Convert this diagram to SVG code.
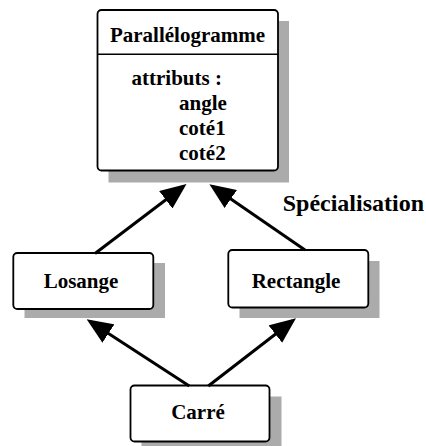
<svg xmlns="http://www.w3.org/2000/svg" width="426" height="446" viewBox="0 0 426 446">
  <style>
    .shadow { fill: #ababab; }
    .box { fill: #ffffff; stroke: #000000; stroke-width: 1.8; }
    .sep { stroke: #000000; stroke-width: 1.5; }
    text { font-family: "Liberation Serif", "Times New Roman", serif; font-weight: bold; font-size: 21px; fill: #000000; }
    .mid { text-anchor: middle; }
    .big { font-size: 24px; }
    .link { stroke: #000000; stroke-width: 3; fill: none; marker-end: url(#head); }
  </style>
  <defs>
    <marker id="head" markerUnits="userSpaceOnUse" markerWidth="26" markerHeight="22" refX="22" refY="11" orient="auto">
      <path d="M0,0 L26,11 L0,22 Z" fill="#000000"/>
    </marker>
  </defs>

  <rect width="426" height="446" fill="#ffffff"/>

  <!-- class boxes -->
  <g id="parallelogramme">
    <rect class="shadow" x="108.5" y="21" width="180.5" height="161.5"/>
    <rect class="box" x="97.5" y="10" width="180.5" height="160.5" rx="4"/>
    <line class="sep" x1="97.5" y1="54.3" x2="278" y2="54.3"/>
    <text class="mid" x="187.5" y="42.3">Parallélogramme</text>
    <text x="131.5" y="84.5">attributs :</text>
    <text x="179" y="110">angle</text>
    <text x="179" y="135">coté1</text>
    <text x="179" y="159.5">coté2</text>
  </g>

  <g id="losange">
    <rect class="shadow" x="24.5" y="263" width="140.5" height="55"/>
    <rect class="box" x="13.3" y="253" width="140" height="56" rx="4"/>
    <text class="mid" x="81" y="288">Losange</text>
  </g>

  <g id="rectangle">
    <rect class="shadow" x="239.5" y="261" width="140" height="57"/>
    <rect class="box" x="228.3" y="250" width="140" height="57.5" rx="4"/>
    <text class="mid" x="296" y="288.3">Rectangle</text>
  </g>

  <g id="carre">
    <rect class="shadow" x="141.5" y="396.5" width="140" height="56"/>
    <rect class="box" x="130.5" y="385.5" width="139" height="56" rx="4"/>
    <text class="mid" x="198" y="418.5">Carré</text>
  </g>

  <!-- generalisation links -->
  <g id="links">
    <line class="link" x1="95" y1="253.5" x2="183.3" y2="186.5"/>
    <line class="link" x1="305" y1="250" x2="212.7" y2="186.5"/>
    <line class="link" x1="189.3" y1="386" x2="90" y2="321.5"/>
    <line class="link" x1="208.3" y1="386" x2="292.8" y2="320.7"/>
  </g>

  <text class="big" x="282.7" y="210.5">Spécialisation</text>
</svg>
